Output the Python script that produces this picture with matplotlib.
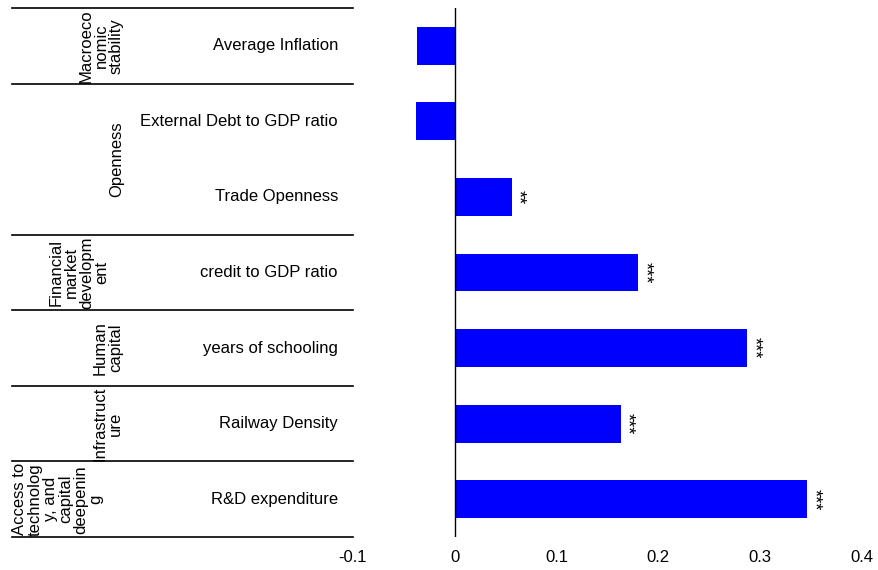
import matplotlib
matplotlib.use("Agg")
import matplotlib.pyplot as plt
from matplotlib.lines import Line2D

plt.rcParams['font.family'] = ['Liberation Sans', 'DejaVu Sans']

categories = ["Average Inflation", "External Debt to GDP ratio", "Trade Openness",
              "credit to GDP ratio", "years of schooling", "Railway Density", "R&D expenditure"]
values = [-0.037, -0.038, 0.056, 0.180, 0.287, 0.163, 0.346]
stars = ["", "", "**", "***", "***", "***", "***"]
groups = ["Macroeco\nnomic\nstability", "Openness", "Financial\nmarket\ndevelopm\nent",
          "Human\ncapital", "Infrastruct\nure", "Access to\ntechnolog\ny, and\ncapital\ndeepenin\ng"]
group_sizes = [1, 2, 1, 1, 1, 1]
group_xpx = [101, 117, 79, 108, 108, 58]
xticks = [-0.1, 0, 0.1, 0.2, 0.3, 0.4]
xticklabels = ["-0.1", "0", "0.1", "0.2", "0.3", "0.4"]

W, H = 879, 570
fig = plt.figure(figsize=(W/100, H/100), dpi=100)
L, R, T, B = 353, 862, 8, 537
ax = fig.add_axes([L/W, 1-B/H, (R-L)/W, (B-T)/H])
n = len(categories)
ys = list(range(n))
ax.barh(ys, values, height=0.5, color="#0000FF")
ax.set_ylim(n-0.5, -0.5)
ax.set_xlim(-0.1, 0.4)
ax.axvline(0, color="black", lw=1)
for s in ax.spines.values():
    s.set_visible(False)
ax.set_yticks([])
ax.set_xticks(xticks)
ax.set_xticklabels(xticklabels, fontsize=12)
ax.tick_params(axis='x', length=0, pad=9)
for y, v, st in zip(ys, values, stars):
    if st:
        ax.annotate(st, (v, y), xytext=(4.5, 0), textcoords="offset points",
                    rotation=270, ha="center", va="center", fontsize=13)

def fy(yd):
    return ax.transData.transform((0, yd))[1] / H

for y, c in zip(ys, categories):
    fig.text(338/W, fy(y), c, ha="right", va="center", fontsize=12)

start = 0
bounds = [-0.5]
for g, sz, gx in zip(groups, group_sizes, group_xpx):
    end = start + sz
    bounds.append(end - 0.5)
    fig.text(gx/W, (fy(start-0.5)+fy(end-0.5))/2, g, rotation=90, ha="center",
             va="center", fontsize=12, linespacing=1.02, multialignment="center")
    start = end
for b in bounds:
    yy = fy(b)
    fig.add_artist(Line2D([12/W, 353/W], [yy, yy], color="black", lw=1.2))

fig.savefig("out.png", dpi=100)
